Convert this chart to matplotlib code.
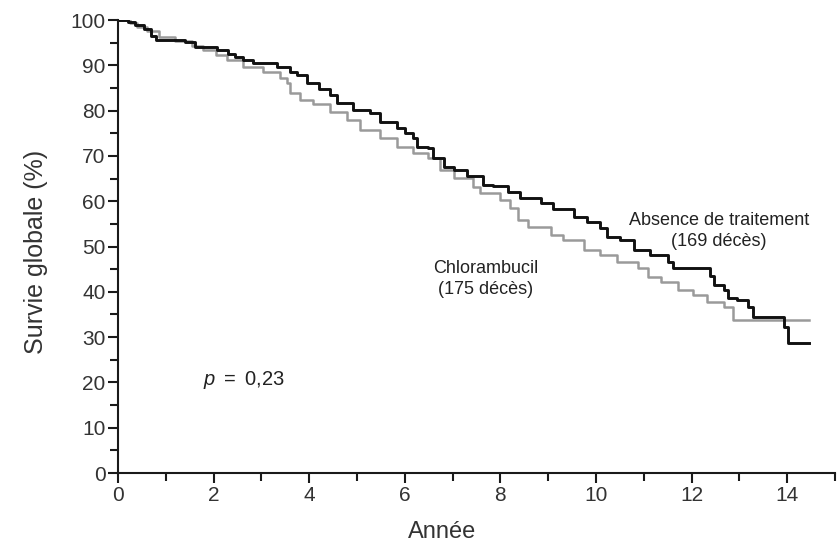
""" Import Required Libraries """
import matplotlib
matplotlib.use("Agg")
import matplotlib.pyplot as plt
from matplotlib.ticker import MultipleLocator

""" Survival Data (time in years, overall survival in %) """
t_absence = [0.00, 0.20, 0.36, 0.55, 0.70, 0.80, 1.40, 1.61, 2.07, 2.30, 2.45,
             2.62, 2.83, 3.33, 3.60, 3.75, 3.96, 4.20, 4.44, 4.59, 4.92, 5.28,
             5.49, 5.84, 6.00, 6.18, 6.26, 6.49, 6.58, 6.81, 7.02, 7.31, 7.64,
             7.85, 8.15, 8.42, 8.84, 9.11, 9.53, 9.82, 10.09, 10.24, 10.51,
             10.79, 11.14, 11.50, 11.62, 12.38, 12.46, 12.67, 12.77, 12.96,
             13.17, 13.28, 13.93, 14.01, 14.45]
s_absence = [100.0, 99.6, 98.9, 98.0, 96.5, 95.6, 95.1, 94.0, 93.3, 92.5, 91.9,
             91.2, 90.5, 89.6, 88.5, 87.9, 86.1, 84.8, 83.4, 81.7, 80.1, 79.5,
             77.5, 76.2, 75.0, 74.0, 72.0, 71.7, 69.5, 67.5, 66.9, 65.6, 63.6,
             63.4, 62.0, 60.7, 59.6, 58.3, 56.5, 55.4, 54.1, 52.1, 51.4,
             49.2, 48.1, 46.6, 45.3, 43.5, 41.5, 40.4, 38.6, 38.2,
             36.6, 34.4, 32.2, 28.7, 28.7]

t_chlor = [0.00, 0.25, 0.40, 0.60, 0.85, 1.20, 1.55, 1.78, 2.05, 2.28, 2.62,
           3.04, 3.39, 3.54, 3.60, 3.81, 4.08, 4.44, 4.80, 5.07, 5.49, 5.84,
           6.18, 6.49, 6.74, 7.02, 7.43, 7.58, 8.00, 8.21, 8.36, 8.57, 9.05,
           9.32, 9.74, 10.09, 10.45, 10.87, 11.08, 11.35, 11.71, 12.04, 12.33,
           12.67, 12.86, 14.45]
s_chlor = [100.0, 99.3, 98.5, 97.6, 96.2, 95.3, 94.2, 93.4, 92.3, 91.2, 89.6,
           88.5, 87.2, 86.1, 83.9, 82.3, 81.5, 79.7, 77.9, 75.7, 74.0, 72.0,
           70.6, 69.5, 66.9, 65.1, 63.1, 61.8, 60.3, 58.5, 55.8, 54.3, 52.5,
           51.4, 49.2, 48.1, 46.6, 45.3, 43.3, 42.2, 40.4, 39.3, 37.7,
           36.6, 33.8, 33.8]

""" Figure Setup """
plt.rcParams['font.family'] = ['Liberation Sans', 'DejaVu Sans']
plt.rcParams['mathtext.fontset'] = 'custom'
plt.rcParams['mathtext.it'] = 'Liberation Sans:italic'
plt.rcParams['mathtext.rm'] = 'Liberation Sans'
fig = plt.figure(figsize=(8.38, 5.44), dpi=100)
ax = fig.add_axes([0.1408, 0.1305, 0.8556, 0.8327])

""" Kaplan-Meier curves """
ax.plot(t_chlor, s_chlor, drawstyle='steps-post', color='#9a9a9a', lw=1.8)
ax.plot(t_absence, s_absence, drawstyle='steps-post', color='#111111', lw=2.1)

""" Annotations """
ax.text(12.57, 53.4, "Absence de traitement\n(169 décès)", ha='center',
        va='center', fontsize=13, color='#222222', linespacing=1.35)
ax.text(7.69, 42.8, "Chlorambucil\n(175 décès)", ha='center', va='center',
        fontsize=13, color='#222222', linespacing=1.35)
ax.text(1.78, 20.5, r"$p$ $=$ 0,23", ha='left', va='center', fontsize=14.5,
        color='#222222')

""" Axes styling """
ax.set_xlim(0, 15)
ax.set_ylim(0, 100)
ax.xaxis.set_major_locator(MultipleLocator(2))
ax.xaxis.set_minor_locator(MultipleLocator(1))
ax.yaxis.set_major_locator(MultipleLocator(10))
ax.yaxis.set_minor_locator(MultipleLocator(5))
for side in ['top', 'right']:
    ax.spines[side].set_visible(False)
for side in ['left', 'bottom']:
    ax.spines[side].set_linewidth(1.5)
    ax.spines[side].set_color('#1a1a1a')
ax.tick_params(which='major', length=7, width=1.5, labelsize=15,
               labelcolor='#333333', color='#1a1a1a', pad=2)
ax.tick_params(which='minor', length=6, width=1.5, color='#1a1a1a')
ax.set_xlabel("Année", fontsize=17, color='#333333')
ax.set_ylabel("Survie globale (%)", fontsize=18, color='#333333')
ax.xaxis.set_label_coords(0.452, -0.105)
ax.yaxis.set_label_coords(-0.098, 0.488)

plt.savefig("out.png", dpi=100)
